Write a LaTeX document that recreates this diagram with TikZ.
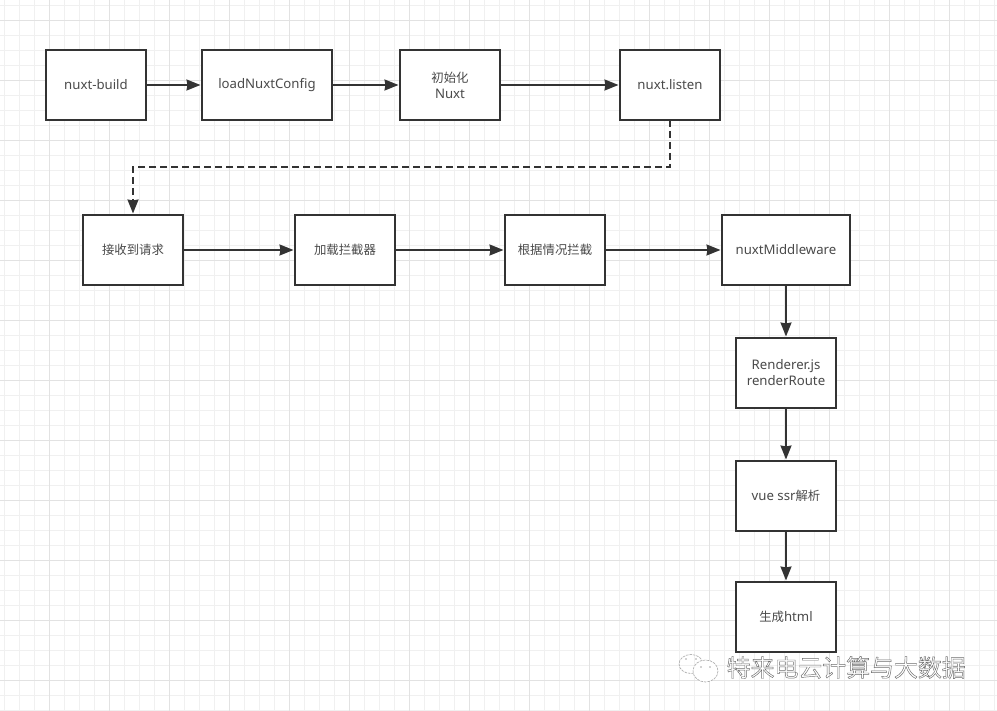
\documentclass[tikz,border=0pt]{standalone}
\usepackage{fontspec}
\setmainfont{Noto Sans}
\newfontfamily\cjkfam{Noto Sans CJK SC}
\newcommand{\zh}[1]{{\fontsize{12.4}{16}\selectfont\cjkfam #1}}
\usetikzlibrary{arrows.meta}
\definecolor{ink}{HTML}{333333}
\definecolor{txt}{HTML}{4A4A4A}
\definecolor{minorgrid}{HTML}{F0F0F0}
\definecolor{majorgrid}{HTML}{E2E2E2}
\tikzset{
  flowbox/.style={draw=ink,line width=1.6pt,fill=white,minimum height=70pt,inner sep=0pt,outer sep=0pt,text=txt,align=center,font=\fontsize{13.2}{16}\selectfont,anchor=north west},
  boxa/.style={flowbox,minimum width=100pt},
  boxb/.style={flowbox,minimum width=130pt},
  boxc/.style={flowbox,minimum width=128pt},
  flowarrow/.style={draw=ink,line width=1.6pt,-{Stealth[inset=1pt,length=14pt,width=11pt]},shorten >=1.5pt},
  dasharrow/.style={flowarrow,dash pattern=on 7pt off 4pt},
}
\begin{document}
\begin{tikzpicture}[x=1pt,y=-1pt]
\useasboundingbox (0,0) rectangle (997,711);
\fill[white] (0,0) rectangle (997,711);
\foreach \k in {0,...,66} \draw[minorgrid,line width=0.8pt] ({4.5+15*\k},0) -- ({4.5+15*\k},711);
\foreach \k in {0,...,47} \draw[minorgrid,line width=0.8pt] (0,{5+15*\k}) -- (997,{5+15*\k});
\foreach \k in {0,...,15} \draw[majorgrid,line width=0.9pt] ({49.5+60*\k},0) -- ({49.5+60*\k},711);
\foreach \k in {0,...,11} \draw[majorgrid,line width=0.9pt] (0,{20+60*\k}) -- (997,{20+60*\k});

\node[boxa] (build) at (46,50) {nuxt-build};
\node[boxb] (config) at (202,50) {loadNuxtConfig};
\node[boxa] (init) at (400,50) {\zh{初始化}\\Nuxt};
\node[boxa] (listen) at (620,50) {nuxt.listen};
\node[boxa] (recv) at (83,215) {\zh{接收到请求}};
\node[boxa] (load) at (295,215) {\zh{加载拦截器}};
\node[boxa] (block) at (505,215) {\zh{根据情况拦截}};
\node[boxc] (mid) at (722,215) {nuxtMiddleware};
\node[boxa] (render) at (736,338) {Renderer.js\\renderRoute};
\node[boxa] (vue) at (736,461) {vue ssr\zh{解析}};
\node[boxa] (html) at (736,582) {\zh{生成}html};

\draw[flowarrow] (build) -- (config);
\draw[flowarrow] (config) -- (init);
\draw[flowarrow] (init) -- (listen);
\coordinate (bendA) at (listen.south |- 0,167);
\coordinate (bendB) at (recv.north |- 0,167);
\draw[dasharrow] (listen.south) -- (bendA) -- (bendB) -- (recv.north);
\draw[flowarrow] (recv) -- (load);
\draw[flowarrow] (load) -- (block);
\draw[flowarrow] (block) -- (mid);
\draw[flowarrow] (mid.south -| render.north) -- (render.north);
\draw[flowarrow] (render) -- (vue);
\draw[flowarrow] (vue) -- (html);

% watermark
\begin{scope}[draw=gray!70,line width=0.6pt,fill=white]
\draw[dash pattern=on 2.5pt off 1pt] (691,664) ellipse (12 and 9.5);
\filldraw[dash pattern=on 2.5pt off 1pt] (705.5,671) ellipse (12.5 and 11);
\fill[gray!70] (686,659) circle (0.8) (696,659) circle (0.8) (701,667) circle (0.8) (710,667) circle (0.8);
\end{scope}
\node[anchor=west,inner sep=0pt,text=white,font=\fontsize{23.9}{26}\selectfont\cjkfam] (mark) at (726.5,667.5)
  {\special{pdf:code q 2 Tr 0.45 w 0.42 0.42 0.42 RG 1 1 1 rg}特来电云计算与大数据\special{pdf:code 0 Tr Q}};
\end{tikzpicture}
\end{document}
